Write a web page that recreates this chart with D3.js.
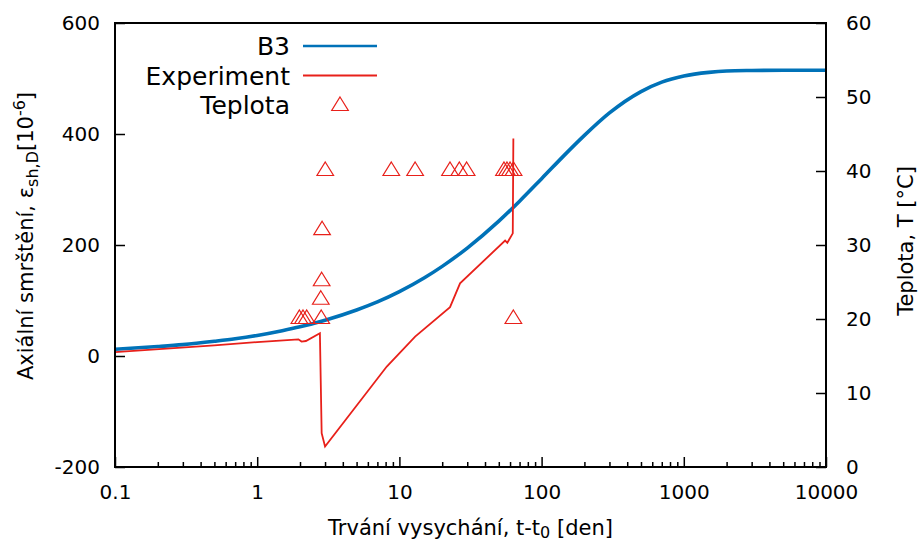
<!DOCTYPE html>
<html>
<head>
<meta charset="utf-8">
<script src="https://cdn.jsdelivr.net/npm/d3@7"></script>
<style>
  html, body { margin: 0; padding: 0; background: #fff; }
  svg { display: block; font-family: "DejaVu Sans", sans-serif; }
</style>
</head>
<body>
<svg id="chart" width="918" height="541"></svg>
<script>
// Drying time [days] and B3 model shrinkage strain [1e-6]
const b3Time = [0.1, 0.2, 0.3, 0.5, 0.7, 1, 1.5, 2, 3, 5, 7, 10, 15, 20, 30, 50, 70, 100, 150, 200, 300, 500, 700, 1000, 1500, 2000, 3000, 5000, 10000];
const b3Strain = [12, 17, 20.5, 26.5, 31, 37, 45.5, 52.5, 64.5, 83, 97.5, 116, 141, 161.5, 194.5, 243, 279, 319.5, 366, 397.5, 438, 476.5, 493.5, 504.5, 511, 513.5, 514.5, 515, 515];

// Measured shrinkage strain [1e-6]
const expTime = [0.1, 0.5, 1, 1.95, 2.05, 2.2, 2.76, 2.84, 3.0, 8.15, 12.9, 22.7, 26.7, 55.4, 57.4, 62.7, 63.3];
const expStrain = [7, 19, 25, 30, 26, 27, 41, -139, -163, -19, 35, 88, 131, 208, 204, 221, 392];

// Temperature readings [°C]
const tempTime = [1.98, 2.1, 2.23, 2.82, 2.8, 2.84, 2.86, 3.01, 8.77, 12.9, 22.7, 26.4, 29.7, 54.4, 57.1, 60, 63.5, 63.3];
const tempValue = [20, 20, 20, 20, 22.6, 25.1, 32, 40, 40, 40, 40, 40, 40, 40, 40, 40, 40, 20];

// Axis ticks
const xTicks = [0.1, 1, 10, 100, 1000, 10000];
const xTickLabels = ["0.1", "1", "10", "100", "1000", "10000"];
const yLeftTicks = [-200, 0, 200, 400, 600];
const yLeftLabels = ["-200", "0", "200", "400", "600"];
const yRightTicks = [0, 10, 20, 30, 40, 50, 60];

const seriesNames = ["B3", "Experiment", "Teplota"];

const blue = "#0072b8";
const red = "#e8201a";

const svg = d3.select("#chart");
const L = 115, R = 826, T = 23, B = 467;

const x = d3.scaleLog().domain([0.1, 10000]).range([L, R]);
const yL = d3.scaleLinear().domain([-200, 600]).range([B, T]);
const yR = d3.scaleLinear().domain([0, 60]).range([B, T]);

svg.append("defs").append("clipPath").attr("id", "plotclip")
  .append("rect").attr("x", L).attr("y", T).attr("width", R - L).attr("height", B - T);

const plot = svg.append("g").attr("clip-path", "url(#plotclip)");

// B3 model curve
const b3 = b3Time.map((t, i) => [t, b3Strain[i]]);
plot.append("path")
  .attr("d", d3.line().x(d => x(d[0])).y(d => yL(d[1])).curve(d3.curveMonotoneX)(b3))
  .attr("fill", "none").attr("stroke", blue).attr("stroke-width", 3.6);

// Experimental curve
const ex = expTime.map((t, i) => [t, expStrain[i]]);
plot.append("path")
  .attr("d", d3.line().x(d => x(d[0])).y(d => yL(d[1]))(ex))
  .attr("fill", "none").attr("stroke", red).attr("stroke-width", 1.8)
  .attr("stroke-linejoin", "miter");

// Open triangle marker, centred on its centroid
const tri = "M0,-9L8.3,4.5L-8.3,4.5Z";
plot.selectAll("path.temp").data(tempTime.map((t, i) => [t, tempValue[i]]))
  .join("path").attr("class", "temp")
  .attr("transform", d => `translate(${x(d[0])},${yR(d[1])})`)
  .attr("d", tri).attr("fill", "none").attr("stroke", red).attr("stroke-width", 1.2);

// Axes with inward ticks
const fontSize = 20;
const titleSize = 21;
function styleAxis(g) {
  g.select(".domain").remove();
  g.selectAll(".tick line").attr("stroke", "#000").attr("stroke-width", 1.5);
  g.selectAll(".tick text").attr("font-size", fontSize).attr("fill", "#000")
    .attr("font-family", "DejaVu Sans, sans-serif");
}

const minorX = [];
[0.1, 1, 10, 100, 1000].forEach(d => { for (let k = 2; k <= 9; k++) minorX.push(+(d * k).toPrecision(3)); });

svg.append("g").attr("transform", `translate(0,${B})`)
  .call(d3.axisBottom(x).tickValues(minorX).tickSizeInner(-5).tickSizeOuter(0).tickFormat(""))
  .call(styleAxis);

svg.append("g").attr("transform", `translate(0,${B})`)
  .call(d3.axisBottom(x).tickValues(xTicks).tickSizeInner(-10).tickSizeOuter(0).tickPadding(18)
    .tickFormat((d, i) => xTickLabels[i]))
  .call(styleAxis)
  .call(g => g.selectAll(".tick text").attr("dy", "0.71em"));

svg.append("g").attr("transform", `translate(${L},0)`)
  .call(d3.axisLeft(yL).tickValues(yLeftTicks).tickSizeInner(-10).tickSizeOuter(0).tickPadding(15)
    .tickFormat((d, i) => yLeftLabels[i]))
  .call(styleAxis);

svg.append("g").attr("transform", `translate(${R},0)`)
  .call(d3.axisRight(yR).tickValues(yRightTicks).tickSizeInner(-10).tickSizeOuter(0).tickPadding(20))
  .call(styleAxis);

// Frame
svg.append("rect").attr("x", L).attr("y", T).attr("width", R - L).attr("height", B - T)
  .attr("fill", "none").attr("stroke", "#000").attr("stroke-width", 2);

// Axis titles
const xt = svg.append("text").attr("x", (L + R) / 2).attr("y", 535)
  .attr("text-anchor", "middle").attr("font-size", titleSize);
xt.append("tspan").text("Trvání vysychání, t-t");
xt.append("tspan").attr("font-size", 16).attr("dy", 3).text("0");
xt.append("tspan").attr("dy", -3).text(" [den]");

const yt = svg.append("text").attr("transform", "translate(33,236) rotate(-90)")
  .attr("text-anchor", "middle").attr("font-size", titleSize);
yt.append("tspan").text("Axiální smrštění, ε");
yt.append("tspan").attr("font-size", 16).attr("dy", 5).text("sh,D");
yt.append("tspan").attr("dy", -5).text("[10");
yt.append("tspan").attr("font-size", 16).attr("dy", -8).text("-6");
yt.append("tspan").attr("dy", 8).text("]");

svg.append("text").attr("transform", "translate(913,241) rotate(-90)")
  .attr("text-anchor", "middle").attr("font-size", titleSize).text("Teplota, T [°C]");

// Legend
const lg = svg.append("g");
const legY = [46, 75.5, 105];
lg.selectAll("text").data(seriesNames).join("text")
  .attr("x", 290).attr("y", (d, i) => legY[i]).attr("dy", "0.36em")
  .attr("text-anchor", "end").attr("font-size", 25).text(d => d);
lg.append("line").attr("x1", 303).attr("x2", 377).attr("y1", legY[0]).attr("y2", legY[0])
  .attr("stroke", blue).attr("stroke-width", 2.7);
lg.append("line").attr("x1", 303).attr("x2", 377).attr("y1", legY[1]).attr("y2", legY[1])
  .attr("stroke", red).attr("stroke-width", 1.8);
lg.append("path").attr("transform", `translate(340,${legY[2] + 1})`).attr("d", tri)
  .attr("fill", "none").attr("stroke", red).attr("stroke-width", 1.2);
</script>
</body>
</html>
